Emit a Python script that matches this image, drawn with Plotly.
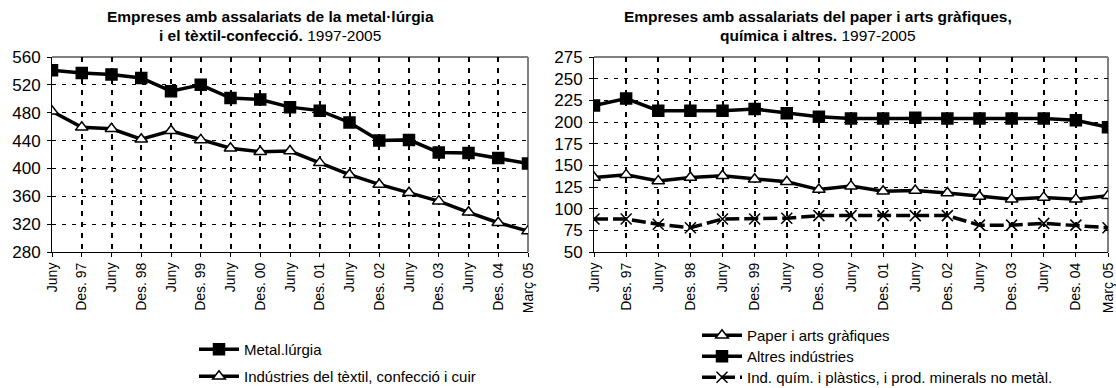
import plotly.graph_objects as go

# Period labels along the x axis (half-yearly, June 1997 to March 2005)
periods = ["Juny", "Des. 97", "Juny", "Des. 98", "Juny", "Des. 99", "Juny", "Des. 00",
           "Juny", "Des. 01", "Juny", "Des. 02", "Juny", "Des. 03", "Juny", "Des. 04", "Març 05"]
idx = list(range(len(periods)))

# Left panel: metal industry and textile
metal = [541, 537, 535, 530, 511, 520, 501, 499, 488, 483, 466, 440, 441, 423, 422, 415, 407]
textil = [482, 459, 457, 442, 454, 441, 429, 424, 425, 408, 391, 377, 365, 353, 337, 322, 310]

# Right panel: paper, other industries, chemicals
paper = [136, 139, 132, 136, 138, 134, 131, 122, 126, 120, 121, 118, 114, 111, 113, 111, 115]
altres = [219, 227, 213, 213, 213, 215, 210, 206, 204, 204, 205, 204, 204, 204, 204, 202, 194]
quimica = [88, 88, 82, 78, 88, 88, 89, 92, 92, 92, 92, 92, 81, 81, 83, 81, 78]

FONT = "Liberation Sans, Arial, sans-serif"
LW = 3.5
W, H = 1116, 388

fig = go.Figure()

# Each series gets its own one-row legend so the rows can be spaced freely
legends = {}

def line(x, y, name, xa, ya, legend, symbol, fill, lx, row_y, dash="solid"):
    fig.add_trace(go.Scatter(
        x=x, y=y, name=name, xaxis=xa, yaxis=ya, legend=legend,
        mode="lines+markers",
        line=dict(color="black", width=LW, dash=dash),
        marker=dict(symbol=symbol, size=11, color=fill,
                    line=dict(color="black", width=1.5)),
    ))
    legends[legend] = dict(x=lx / W, y=1 - (row_y - 16) / H, xanchor="left", yanchor="top",
                           bgcolor="rgba(0,0,0,0)", itemwidth=40,
                           font=dict(family=FONT, size=15, color="black"))

line(idx, metal, "Metal.lúrgia", "x", "y", "legend", "square", "black", 194, 349)
line(idx, textil, "Indústries del tèxtil, confecció i cuir", "x", "y", "legend2",
     "triangle-up", "white", 194, 376)
line(idx, paper, "Paper i arts gràfiques", "x2", "y2", "legend3", "triangle-up", "white",
     697, 335)
line(idx, altres, "Altres indústries", "x2", "y2", "legend4", "square", "black", 697, 356)
line(idx, quimica, "Ind. quím. i plàstics, i prod. minerals no metàl.", "x2", "y2",
     "legend5", "x-thin-open", "black", 697, 377, dash="14px,5px")

xdom1 = [52 / W, 528 / W]
xdom2 = [594 / W, 1108 / W]
ydom = [1 - 252 / H, 1 - 57 / H]

xcommon = dict(
    tickmode="array", tickvals=idx, ticktext=periods, tickangle=-90,
    range=[0, 16], showline=True, linecolor="black", linewidth=1,
    ticks="outside", ticklen=4, tickcolor="black",
    showgrid=True, gridcolor="black", gridwidth=2, griddash="5px,6px",
    tickfont=dict(family=FONT, size=14, color="black"), zeroline=False,
)
ycommon = dict(
    showline=True, linecolor="black", linewidth=1,
    ticks="outside", ticklen=4, tickcolor="black", ticklabelstandoff=3,
    showgrid=True, gridcolor="black", gridwidth=1, griddash="4px,6px",
    tickfont=dict(family=FONT, size=17, color="black"), zeroline=False,
)

fig.update_layout(
    width=W, height=H, margin=dict(l=0, r=0, t=0, b=0, autoexpand=False),
    paper_bgcolor="white", plot_bgcolor="white",
    xaxis=dict(domain=xdom1, anchor="y", **xcommon),
    yaxis=dict(domain=ydom, anchor="x", range=[280, 560], tickvals=list(range(280, 561, 40)), **ycommon),
    xaxis2=dict(domain=xdom2, anchor="y2", **xcommon),
    yaxis2=dict(domain=ydom, anchor="x2", range=[50, 275], tickvals=list(range(50, 276, 25)), **ycommon),
    showlegend=True,
    **legends,
)

# Grey frame on top and right side of both plot areas
for xr, yr in (("x domain", "y domain"), ("x2 domain", "y2 domain")):
    fig.add_shape(type="line", xref=xr, yref=yr, x0=0, x1=1, y0=1, y1=1,
                  line=dict(color="#808080", width=2), layer="below")
    fig.add_shape(type="line", xref=xr, yref=yr, x0=1, x1=1, y0=0, y1=1,
                  line=dict(color="#808080", width=2), layer="below")

# Two-line titles, each line placed separately for tight line spacing
titles = [
    (270, "<b>Empreses amb assalariats de la metal·lúrgia</b>",
          "<b>i el tèxtil-confecció.</b> 1997-2005"),
    (818, "<b>Empreses amb assalariats del paper i arts gràfiques,</b>",
          "<b>química i altres.</b> 1997-2005"),
]
for xc, l1, l2 in titles:
    for yc, txt in ((17, l1), (35, l2)):
        fig.add_annotation(x=xc / W, y=1 - yc / H, xref="paper", yref="paper",
                           xanchor="center", yanchor="middle", showarrow=False,
                           font=dict(family=FONT, size=15.5, color="black"), text=txt)

fig.write_html("out.html")
